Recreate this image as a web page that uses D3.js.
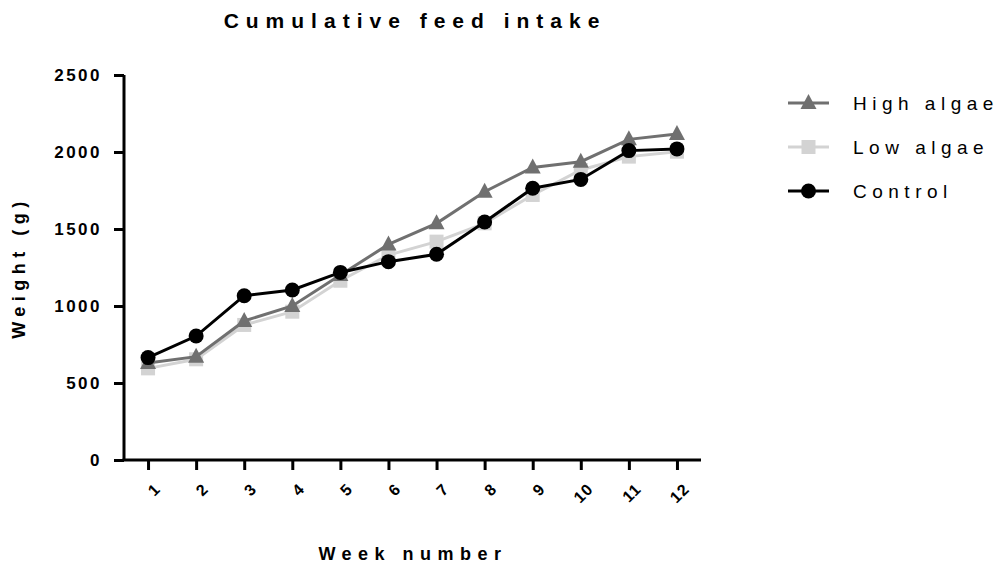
<!DOCTYPE html>
<html>
<head>
<meta charset="utf-8">
<script src="https://cdn.jsdelivr.net/npm/d3@7"></script>
<style>
    body { margin: 0; background: #fff; }
    svg { font-family: "Liberation Sans", Arial, sans-serif; }
</style>
</head>
<body>
<div id="chart"></div>
<script>
const weeks = [1, 2, 3, 4, 5, 6, 7, 8, 9, 10, 11, 12];
const highAlgae = [630, 671, 903, 1000, 1201, 1400, 1537, 1742, 1900, 1937, 2082, 2117];
const lowAlgae = [595, 654, 877, 963, 1164, 1331, 1418, 1537, 1721, 1883, 1970, 2002];
const control = [665, 805, 1067, 1104, 1218, 1288, 1336, 1545, 1765, 1822, 2009, 2020];
const yTicks = [0, 500, 1000, 1500, 2000, 2500];

const seriesList = [
    { name: "Low algae", values: lowAlgae, color: "#d3d3d3", shape: "square" },
    { name: "High algae", values: highAlgae, color: "#707070", shape: "triangle" },
    { name: "Control", values: control, color: "#000000", shape: "circle" }
];
const legendOrder = ["High algae", "Low algae", "Control"];

const width = 999, height = 569;
const plot = { left: 124, right: 701, top: 75, bottom: 460 };

const svg = d3.select("#chart").append("svg")
    .attr("width", width)
    .attr("height", height);

const x = d3.scaleLinear().domain([0.5, 12.5]).range([plot.left, plot.right]);
const y = d3.scaleLinear().domain([0, 2500]).range([plot.bottom, plot.top]);

// title
svg.append("text")
    .attr("x", 415)
    .attr("y", 28)
    .attr("text-anchor", "middle")
    .attr("font-size", 21)
    .attr("font-weight", "bold")
    .attr("letter-spacing", 7)
    .text("Cumulative feed intake");

// y axis
const yAxis = svg.append("g")
    .attr("transform", `translate(${plot.left},0)`)
    .call(d3.axisLeft(y).tickValues(yTicks).tickSize(10).tickSizeOuter(0).tickPadding(12).tickFormat(d3.format("d")));
yAxis.select(".domain").attr("stroke-width", 3).attr("d", `M0,${plot.top}V${plot.bottom}`);
yAxis.selectAll(".tick line").attr("stroke-width", 3);
yAxis.selectAll(".tick text")
    .attr("font-size", 17)
    .attr("font-weight", "bold")
    .attr("letter-spacing", 2.5)
    .attr("fill", "#000");

// x axis
const xAxis = svg.append("g")
    .attr("transform", `translate(0,${plot.bottom})`)
    .call(d3.axisBottom(x).tickValues(weeks).tickSize(10).tickSizeOuter(0).tickFormat(d3.format("d")));
xAxis.select(".domain").attr("stroke-width", 3).attr("d", `M${plot.left - 1.5},0H${plot.right}`);
xAxis.selectAll(".tick line").attr("stroke-width", 3);
xAxis.selectAll(".tick text")
    .attr("font-size", 16)
    .attr("font-weight", "bold")
    .attr("letter-spacing", 1)
    .attr("fill", "#000")
    .attr("text-anchor", "end")
    .attr("dy", "0.35em")
    .attr("y", 0)
    .attr("transform", "translate(9,26) rotate(-45)");

// axis titles
svg.append("text")
    .attr("x", 413)
    .attr("y", 560)
    .attr("text-anchor", "middle")
    .attr("font-size", 18)
    .attr("font-weight", "bold")
    .attr("letter-spacing", 6.5)
    .text("Week number");

svg.append("text")
    .attr("transform", `translate(25,${(plot.top + plot.bottom) / 2}) rotate(-90)`)
    .attr("text-anchor", "middle")
    .attr("font-size", 18)
    .attr("font-weight", "bold")
    .attr("letter-spacing", 5.5)
    .text("Weight (g)");

const line = d3.line()
    .x((d, i) => x(weeks[i]))
    .y(d => y(d));

function drawMarker(g, shape, color, cx, cy) {
    if (shape === "circle") {
        g.append("circle").attr("cx", cx).attr("cy", cy).attr("r", 7.5).attr("fill", color);
    } else if (shape === "square") {
        g.append("rect").attr("x", cx - 7).attr("y", cy - 7).attr("width", 14).attr("height", 14).attr("fill", color);
    } else {
        g.append("path")
            .attr("d", `M${cx},${cy - 9}L${cx + 8},${cy + 6}L${cx - 8},${cy + 6}Z`)
            .attr("fill", color);
    }
}

seriesList.forEach(s => {
    const g = svg.append("g");
    g.append("path")
        .datum(s.values)
        .attr("d", line)
        .attr("fill", "none")
        .attr("stroke", s.color)
        .attr("stroke-width", 3);
    s.values.forEach((v, i) => drawMarker(g, s.shape, s.color, x(weeks[i]), y(v)));
});

// legend
const legend = svg.append("g");
legendOrder.forEach((name, i) => {
    const s = seriesList.find(d => d.name === name);
    const ly = 103 + i * 44;
    legend.append("line")
        .attr("x1", 788).attr("x2", 829)
        .attr("y1", ly).attr("y2", ly)
        .attr("stroke", s.color)
        .attr("stroke-width", 3);
    drawMarker(legend, s.shape, s.color, 808.5, ly);
    legend.append("text")
        .attr("x", 853)
        .attr("y", ly)
        .attr("dy", "0.35em")
        .attr("font-size", 19)
        .attr("letter-spacing", 5.5)
        .text(name);
});
</script>
</body>
</html>
